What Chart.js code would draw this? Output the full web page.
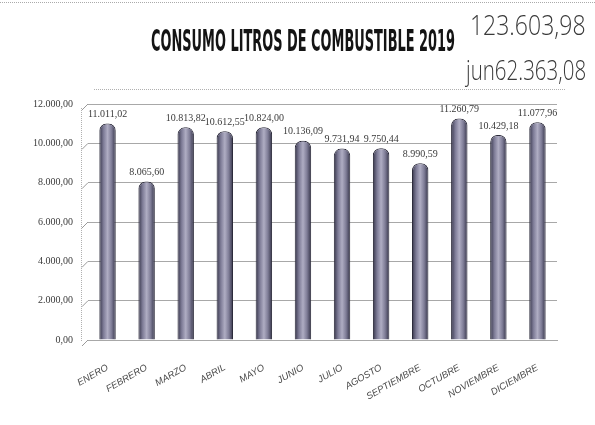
<!DOCTYPE html>
<html>
<head>
<meta charset="utf-8">
<script src="https://cdn.jsdelivr.net/npm/chart.js@4.4.1/dist/chart.umd.min.js"></script>
<style>
    html, body { margin: 0; padding: 0; background: #fff; }
    #wrap { position: relative; width: 595px; height: 425px; overflow: hidden; background: #fff; }
    #grafico { position: absolute; left: 0; top: 0; }
    #titulo {
        position: absolute; left: 151px; top: 26px;
        font-family: "DejaVu Sans Condensed", "DejaVu Sans", sans-serif;
        font-weight: bold; font-size: 30px; line-height: 30px; color: #141414;
        white-space: nowrap; transform-origin: left top;
    }
    .total {
        position: absolute;
        font-family: "Open Sans", sans-serif; font-weight: 300;
        font-size: 27px; line-height: 27px; color: #3a3a3a;
        white-space: nowrap; transform-origin: right top;
    }
    #lineaSup { position: absolute; left: 0; top: 2px; width: 595px; border-top: 1px dotted #aaa; }
</style>
</head>
<body>
<div id="wrap">
    <div id="lineaSup"></div>
    <canvas id="grafico" width="595" height="425"></canvas>
    <div id="titulo">CONSUMO LITROS DE COMBUSTIBLE 2019</div>
    <div class="total" id="total" style="top:11px">123.603,98</div>
    <div class="total" id="junio" style="top:56px">jun62.363,08</div>
</div>
<script>
// Datos
const meses = ['ENERO', 'FEBRERO', 'MARZO', 'ABRIL', 'MAYO', 'JUNIO', 'JULIO',
    'AGOSTO', 'SEPTIEMBRE', 'OCTUBRE', 'NOVIEMBRE', 'DICIEMBRE'];
const litros = [11011.02, 8065.60, 10813.82, 10612.55, 10824.00, 10136.09, 9731.94,
    9750.44, 8990.59, 11260.79, 10429.18, 11077.96];
const ticksY = [0, 2000, 4000, 6000, 8000, 10000, 12000];

// Ajuste de anchos de los textos de cabecera
function ajustar(id, ancho, derecha) {
    const el = document.getElementById(id);
    el.style.transform = 'scaleX(' + (ancho / el.offsetWidth) + ')';
    if (derecha !== undefined) el.style.left = (derecha - el.offsetWidth) + 'px';
}
ajustar('titulo', 304);
ajustar('total', 116, 586);
ajustar('junio', 120, 586);

// Formato numérico español: 10.813,82
function formato(v) {
    const partes = v.toFixed(2).split('.');
    partes[0] = partes[0].replace(/\B(?=(\d{3})+(?!\d))/g, '.');
    return partes[0] + ',' + partes[1];
}

// Degradado de cilindro para cada barra
function colorBarra(ctx) {
    const chart = ctx.chart;
    if (!chart.chartArea) return '#8c8aa3';
    const x = chart.scales.x.getPixelForValue(ctx.dataIndex);
    const g = chart.ctx.createLinearGradient(x - 8, 0, x + 8, 0);
    g.addColorStop(0, '#39384d');
    g.addColorStop(0.25, '#7e7c97');
    g.addColorStop(0.5, '#afadc3');
    g.addColorStop(0.75, '#7f7d97');
    g.addColorStop(1, '#38374c');
    return g;
}

// Marco punteado, líneas 3D a la izquierda y etiquetas de valor
const marco = {
    id: 'marco',
    beforeDatasetsDraw(chart) {
        const { ctx, chartArea: a, scales } = chart;
        ctx.save();
        ctx.strokeStyle = '#b0b0b0';
        ctx.lineWidth = 1;
        ctx.setLineDash([1, 1]);
        ctx.beginPath();
        ctx.moveTo(a.left + 6, a.top - 14.5);
        ctx.lineTo(a.right + 8, a.top - 14.5);
        ctx.moveTo(a.left - 6.5, a.top + 4);
        ctx.lineTo(a.left - 6.5, a.bottom + 2);
        ctx.stroke();
        ctx.setLineDash([]);
        ctx.strokeStyle = '#9a9a9a';
        ticksY.forEach(t => {
            const y = scales.y.getPixelForValue(t);
            ctx.beginPath();
            ctx.moveTo(a.left - 6, y + 6);
            ctx.lineTo(a.left, y);
            ctx.stroke();
        });
        ctx.restore();
    },
    afterDatasetsDraw(chart) {
        const { ctx } = chart;
        const meta = chart.getDatasetMeta(0);
        ctx.save();
        ctx.font = '10px "Liberation Serif", serif';
        ctx.fillStyle = '#3a3a3a';
        ctx.textAlign = 'center';
        ctx.textBaseline = 'bottom';
        meta.data.forEach((bar, i) => {
            ctx.fillText(formato(litros[i]), bar.x, bar.y - 4);
        });
        ctx.restore();
    }
};

new Chart(document.getElementById('grafico'), {
    type: 'bar',
    data: {
        labels: meses,
        datasets: [{
            data: litros,
            backgroundColor: colorBarra,
            borderColor: '#2c2b3b',
            borderWidth: 1,
            borderSkipped: 'bottom',
            borderRadius: { topLeft: 7, topRight: 7 },
            barPercentage: 0.42,
            categoryPercentage: 1
        }]
    },
    options: {
        responsive: false,
        animation: false,
        events: [],
        layout: { padding: { left: 30, right: 38, top: 104, bottom: 0 } },
        plugins: { legend: { display: false }, tooltip: { enabled: false } },
        scales: {
            y: {
                min: 0,
                max: 12000,
                afterBuildTicks: axis => { axis.ticks = ticksY.map(v => ({ value: v })); },
                afterFit: s => { s.width = 58; },
                border: { display: false },
                grid: { color: '#a8a8a8', borderDash: [2, 1], drawTicks: false },
                ticks: {
                    padding: 15,
                    color: '#3a3a3a',
                    font: { family: '"Liberation Serif", serif', size: 10 },
                    callback: v => formato(v)
                }
            },
            x: {
                afterFit: s => { s.height = 85; },
                border: { display: true, color: '#a8a8a8', dash: [2, 1] },
                grid: { display: false },
                ticks: {
                    minRotation: 30,
                    maxRotation: 30,
                    padding: 14,
                    color: '#4a4a4a',
                    font: { family: '"Liberation Sans", sans-serif', size: 9.5, style: 'italic' }
                }
            }
        }
    },
    plugins: [marco]
});
</script>
</body>
</html>
